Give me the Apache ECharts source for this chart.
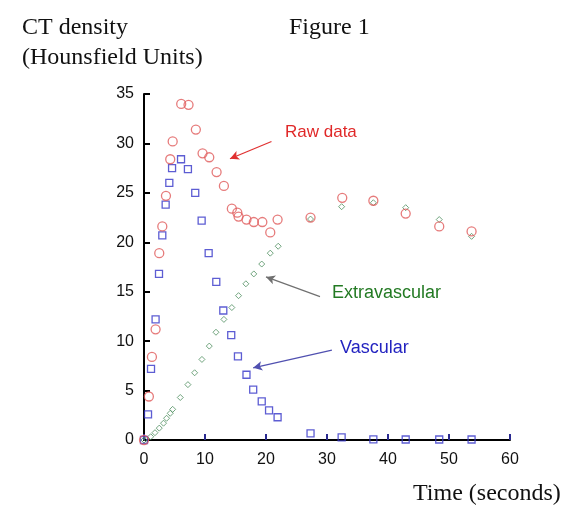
<!DOCTYPE html>
<html><head><meta charset="utf-8">
<script src="https://cdn.jsdelivr.net/npm/echarts@6/dist/echarts.min.js"></script>
<style>html,body{margin:0;padding:0;background:#fff}#c{width:578px;height:523px}</style>
</head><body><div id="c"></div>
<script>
const xTicks = [0, 10, 20, 30, 40, 50, 60];
const yTicks = [0, 5, 10, 15, 20, 25, 30, 35];

const rawX = [0, 0.8, 1.3, 1.9, 2.5, 3.0, 3.6, 4.3, 4.7, 6.1, 7.3, 8.5, 9.6, 10.7, 11.9, 13.1, 14.4, 15.3, 15.5, 16.8, 18.0, 19.4, 20.7, 21.9, 27.3, 32.5, 37.6, 42.9, 48.4, 53.7];
const rawY = [0, 4.4, 8.4, 11.2, 18.9, 21.6, 24.7, 28.4, 30.2, 34.0, 33.9, 31.4, 29.0, 28.6, 27.1, 25.7, 23.4, 23.0, 22.6, 22.3, 22.05, 22.05, 21.0, 22.3, 22.5, 24.5, 24.2, 22.9, 21.6, 21.1];

const extraX = [0, 0.4, 1.1, 1.8, 2.5, 3.2, 3.7, 4.3, 4.7, 5.95, 7.2, 8.3, 9.5, 10.7, 11.8, 13.1, 14.4, 15.5, 16.7, 18.0, 19.3, 20.7, 22.0, 27.3, 32.4, 37.6, 42.9, 48.4, 53.7];
const extraY = [0, 0.07, 0.33, 0.74, 1.2, 1.7, 2.2, 2.7, 3.1, 4.3, 5.6, 6.8, 8.15, 9.5, 10.9, 12.2, 13.4, 14.6, 15.8, 16.8, 17.8, 18.9, 19.6, 22.35, 23.6, 24.0, 23.5, 22.3, 20.6];

const vascX = [0, 0.66, 1.15, 1.9, 2.46, 3.0, 3.55, 4.15, 4.6, 6.07, 7.2, 8.4, 9.45, 10.6, 11.85, 13.0, 14.3, 15.4, 16.8, 17.9, 19.3, 20.5, 21.9, 27.3, 32.4, 37.6, 42.9, 48.4, 53.7];
const vascY = [0, 2.6, 7.2, 12.2, 16.8, 20.7, 23.8, 26.0, 27.5, 28.4, 27.4, 25.0, 22.2, 18.9, 16.0, 13.1, 10.6, 8.45, 6.6, 5.1, 3.9, 3.0, 2.3, 0.67, 0.27, 0.07, 0.05, 0.05, 0.05];

const arrowRaw = [[20.9, 30.2], [14.1, 28.45]];
const arrowExtra = [[28.85, 14.5], [20.0, 16.5]];
const arrowVasc = [[30.8, 9.1], [17.9, 7.3]];

const zip = (a, b) => a.map((v, i) => [v, b[i]]);
const arrowLine = (pts, color) => ({
  silent: true, symbol: ['none', 'arrow'], symbolSize: [7, 9],
  lineStyle: { color: color, width: 1.2, type: 'solid' },
  label: { show: false },
  data: [[{ coord: pts[0] }, { coord: pts[1] }]]
});

const chart = echarts.init(document.getElementById('c'));
chart.setOption({
  animation: false,
  backgroundColor: '#fff',
  grid: { left: 144, right: 68, top: 94, bottom: 83 },
  xAxis: {
    type: 'value', min: 0, max: 60, interval: 10,
    axisLine: { show: true, lineStyle: { color: '#000', width: 2 } },
    axisTick: { show: true, inside: true, length: 6, lineStyle: { color: '#2a2a90', width: 2 } },
    axisLabel: { color: '#111', fontFamily: 'Liberation Sans', fontSize: 16, margin: 12,
      formatter: v => xTicks.includes(v) ? String(v) : '' },
    splitLine: { show: false }
  },
  yAxis: {
    type: 'value', min: 0, max: 35, interval: 5,
    axisLine: { show: true, lineStyle: { color: '#000', width: 2 } },
    axisTick: { show: true, inside: true, length: 6, lineStyle: { color: '#000', width: 2 } },
    axisLabel: { color: '#111', fontFamily: 'Liberation Sans', fontSize: 16, margin: 10,
      formatter: v => yTicks.includes(v) ? String(v) : '' },
    splitLine: { show: false }
  },
  series: [
    { name: 'Extravascular', type: 'scatter', data: zip(extraX, extraY), symbol: 'diamond', symbolSize: 6,
      itemStyle: { color: 'transparent', borderColor: '#4f8f5f', borderWidth: 1 }, z: 2,
      markLine: arrowLine(arrowExtra, '#707070') },
    { name: 'Vascular', type: 'scatter', data: zip(vascX, vascY), symbol: 'rect', symbolSize: 7,
      itemStyle: { color: 'transparent', borderColor: '#3535c8', borderWidth: 1.3 }, z: 3,
      markLine: arrowLine(arrowVasc, '#5050b0') },
    { name: 'Raw data', type: 'scatter', data: zip(rawX, rawY), symbol: 'circle', symbolSize: 9,
      itemStyle: { color: 'transparent', borderColor: '#e05a5a', borderWidth: 1.3 }, z: 4,
      markLine: arrowLine(arrowRaw, '#e03030') }
  ],
  graphic: [
    { type: 'text', left: 22, top: 16, style: { text: 'CT density', font: '24px "Liberation Serif"', fill: '#111' } },
    { type: 'text', left: 22, top: 46, style: { text: '(Hounsfield Units)', font: '24px "Liberation Serif"', fill: '#111' } },
    { type: 'text', left: 289, top: 16, style: { text: 'Figure 1', font: '24px "Liberation Serif"', fill: '#111' } },
    { type: 'text', left: 413, top: 482, style: { text: 'Time (seconds)', font: '24px "Liberation Serif"', fill: '#111' } },
    { type: 'text', left: 285, top: 124, style: { text: 'Raw data', font: '17px "Liberation Sans"', fill: '#e02828' } },
    { type: 'text', left: 332, top: 284, style: { text: 'Extravascular', font: '18px "Liberation Sans"', fill: '#237a23' } },
    { type: 'text', left: 340, top: 339, style: { text: 'Vascular', font: '18px "Liberation Sans"', fill: '#2323c0' } }
  ]
});
</script></body></html>
